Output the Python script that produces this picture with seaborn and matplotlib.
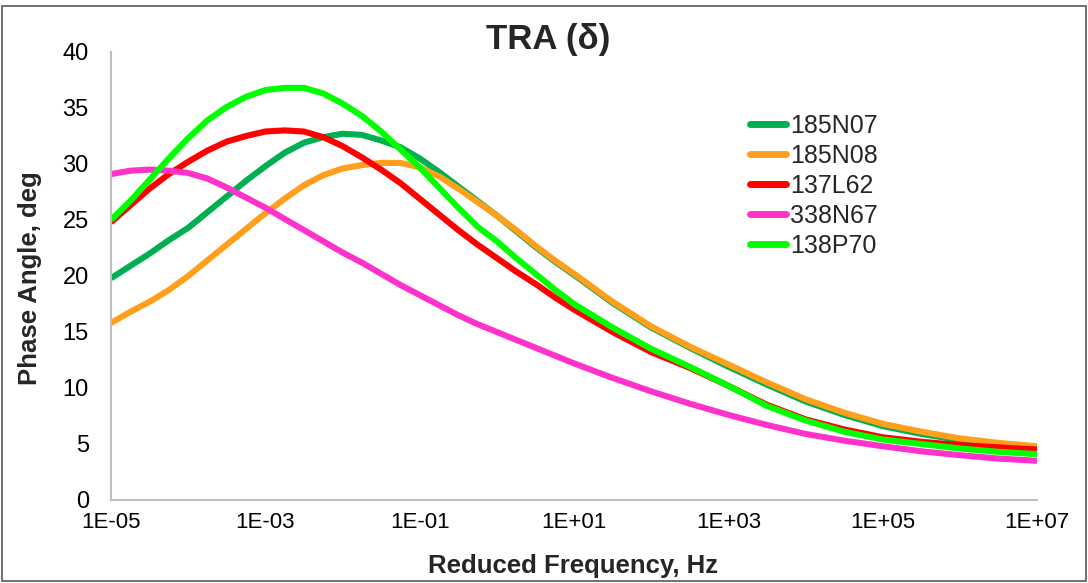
import matplotlib
matplotlib.use("Agg")
import matplotlib.pyplot as plt
import pandas as pd
import seaborn as sns
from matplotlib.lines import Line2D
from matplotlib.patches import Rectangle
from matplotlib.ticker import NullLocator

# ---- data ----
freq = [1e-05, 1.778e-05, 3.162e-05, 5.623e-05,
        1e-04, 1.778e-04, 3.162e-04, 5.623e-04,
        1e-03, 1.778e-03, 3.162e-03, 5.623e-03,
        1e-02, 1.778e-02, 3.162e-02, 5.623e-02,
        1e-01, 1.778e-01, 3.162e-01, 5.623e-01,
        1e+00, 1.778e+00, 3.162e+00, 5.623e+00,
        1e+01, 3.162e+01, 1e+02, 3.162e+02, 1e+03, 3.162e+03,
        1e+04, 3.162e+04, 1e+05, 3.162e+05, 1e+06, 3.162e+06, 1e+07]

s_185N07 = [19.8, 20.9, 22.0, 23.2, 24.3, 25.7, 27.1, 28.5, 29.8, 31.0, 31.9, 32.4,
            32.7, 32.6, 32.1, 31.5, 30.5, 29.3, 28.0, 26.7, 25.4, 24.0, 22.6, 21.3,
            20.1, 17.6, 15.4, 13.6, 11.9, 10.3, 8.8, 7.6, 6.6, 5.9, 5.35, 4.95, 4.65]
s_185N08 = [15.8, 16.8, 17.7, 18.75, 20.0, 21.4, 22.8, 24.2, 25.6, 26.9, 28.1, 29.0,
            29.6, 29.9, 30.1, 30.1, 29.7, 28.9, 27.8, 26.6, 25.4, 24.1, 22.7, 21.4,
            20.2, 17.7, 15.5, 13.7, 12.1, 10.5, 9.0, 7.8, 6.8, 6.1, 5.5, 5.1, 4.8]
s_137L62 = [24.8, 26.3, 27.8, 29.1, 30.2, 31.2, 32.0, 32.5, 32.9, 33.0, 32.9, 32.4,
            31.6, 30.6, 29.5, 28.3, 26.9, 25.5, 24.1, 22.8, 21.6, 20.4, 19.3, 18.1,
            17.0, 15.0, 13.2, 11.8, 10.2, 8.5, 7.2, 6.3, 5.6, 5.2, 4.9, 4.7, 4.5]
s_338N67 = [29.1, 29.4, 29.5, 29.4, 29.2, 28.7, 27.9, 27.0, 26.1, 25.1, 24.1, 23.1,
            22.1, 21.2, 20.2, 19.2, 18.3, 17.4, 16.5, 15.7, 15.0, 14.3, 13.6, 12.9,
            12.2, 10.9, 9.7, 8.6, 7.6, 6.7, 5.9, 5.3, 4.8, 4.35, 4.0, 3.7, 3.5]
s_138P70 = [25.0, 26.7, 28.6, 30.5, 32.3, 33.9, 35.1, 36.0, 36.6, 36.8, 36.8, 36.3,
            35.4, 34.3, 32.9, 31.3, 29.7, 27.9, 26.1, 24.4, 23.1, 21.6, 20.2, 18.8,
            17.5, 15.4, 13.5, 11.9, 10.2, 8.4, 7.1, 6.1, 5.4, 5.0, 4.6, 4.3, 4.1]

series_names = ["185N07", "185N08", "137L62", "338N67", "138P70"]
series_values = [s_185N07, s_185N08, s_137L62, s_338N67, s_138P70]
series_colors = ["#00B050", "#FF9F1C", "#FF0000", "#FF33CC", "#00FF00"]

x_ticks = [1e-05, 1e-03, 1e-01, 1e+01, 1e+03, 1e+05, 1e+07]
x_tick_labels = ["1E-05", "1E-03", "1E-01", "1E+01", "1E+03", "1E+05", "1E+07"]
y_ticks = [0, 5, 10, 15, 20, 25, 30, 35, 40]

title_text = "TRA (\u03b4)"
x_label = "Reduced Frequency, Hz"
y_label = "Phase Angle, deg"

# ---- build long-form table ----
frames = []
for name, vals in zip(series_names, series_values):
    frames.append(pd.DataFrame({"freq": freq, "angle": vals, "series": name}))
df = pd.concat(frames, ignore_index=True)

sns.set_theme(style="white")
plt.rcParams["font.family"] = ["Liberation Sans", "DejaVu Sans"]

W, H = 1088, 583
fig = plt.figure(figsize=(W / 100, H / 100), dpi=100)
ax = fig.add_axes([111 / W, 1 - 500 / H, (1037 - 111) / W, (500 - 52) / H])

palette = dict(zip(series_names, series_colors))
sns.lineplot(data=df, x="freq", y="angle", hue="series", hue_order=series_names,
             palette=palette, linewidth=4.4, ax=ax, legend=False, sort=False,
             estimator=None)
for ln in ax.get_lines():
    ln.set_solid_capstyle("butt")
    ln.set_solid_joinstyle("round")

ax.set_xscale("log")
ax.set_xlim(1e-05, 1e+07)
ax.set_ylim(0, 40)
ax.set_xticks(x_ticks)
ax.set_xticklabels(x_tick_labels)
ax.xaxis.set_minor_locator(NullLocator())
ax.set_yticks(y_ticks)
ax.set_yticklabels([str(v) for v in y_ticks])
ax.set_xlabel("")
ax.set_ylabel("")
ax.tick_params(axis="both", length=0, colors="#000000")
ax.tick_params(axis="x", pad=9, labelsize=16)
ax.tick_params(axis="y", pad=16, labelsize=17)
ax.grid(False)
for side in ["top", "right"]:
    ax.spines[side].set_visible(False)
for side in ["left", "bottom"]:
    ax.spines[side].set_color("#BFBFBF")
    ax.spines[side].set_linewidth(1.5)

fig.text(548 / W, 1 - 40 / H, title_text, ha="center", va="center",
         fontsize=25, fontweight="bold")
fig.text(573 / W, 1 - 566 / H, x_label, ha="center", va="center",
         fontsize=18.5, fontweight="bold")
fig.text(30 / W, 1 - 278 / H, y_label, ha="center", va="center",
         rotation=90, fontsize=18.5, fontweight="bold")

handles = [Line2D([0], [0], color=c, lw=5, solid_capstyle="round") for c in series_colors]
fig.legend(handles, series_names, loc="upper left",
           bbox_to_anchor=(750 / W, 1 - 114 / H), frameon=False, fontsize=18,
           handlelength=1.45, handletextpad=0.15, labelspacing=0.24,
           borderaxespad=0, borderpad=0)

fig.add_artist(Rectangle((2 / W, 2 / H), 1 - 4 / W, 1 - 8 / H,
                         transform=fig.transFigure, fill=False,
                         edgecolor="#595959", linewidth=1.2))

fig.savefig("out.png", dpi=100, facecolor="white")
